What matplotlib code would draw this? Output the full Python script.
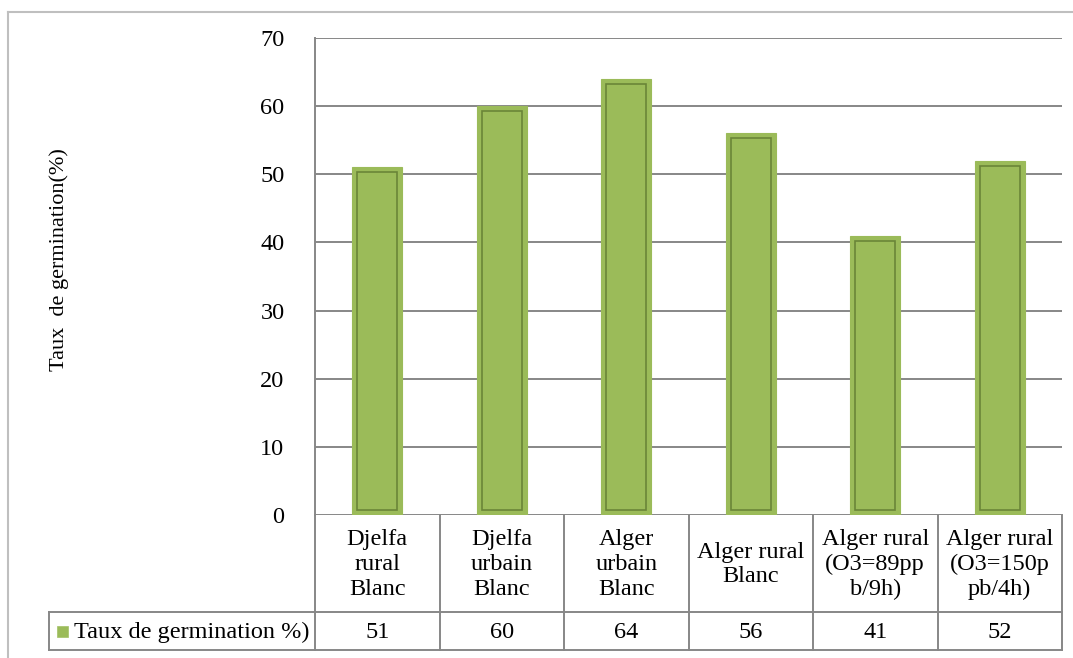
import matplotlib
matplotlib.use("Agg")
import matplotlib.pyplot as plt
from matplotlib.lines import Line2D
from matplotlib.patches import Rectangle

categories = ["Djelfa\nrural\nBlanc", "Djelfa\nurbain\nBlanc", "Alger\nurbain\nBlanc",
              "Alger rural\nBlanc", "Alger rural\n(O3=89pp\nb/9h)", "Alger rural\n(O3=150p\npb/4h)"]
values = [51, 60, 64, 56, 41, 52]
series_name = "Taux de germination %)"
y_label = "Taux  de germination(%)"
y_ticks = [0, 10, 20, 30, 40, 50, 60, 70]

W, H = 1073, 658
plt.rcParams['font.family'] = ['Liberation Serif', 'DejaVu Serif']
fig = plt.figure(figsize=(W / 100, H / 100), dpi=100)

def fx(px):
    return px / W

def fy(py):
    return 1 - py / H

ax_l, ax_r, ax_t, ax_b = 315, 1062, 38, 515
ax = fig.add_axes([fx(ax_l), fy(ax_b), (ax_r - ax_l) / W, (ax_b - ax_t) / H])

fill = '#9BBB59'
inner = '#6A8538'
grid_c = '#878787'
fs = 17.5

x = list(range(len(values)))
bw = 0.40
ax.set_xlim(-0.5, len(values) - 0.5)
ax.set_ylim(0, 70)

# gridlines
for t in y_ticks:
    ax.axhline(t, color=grid_c, lw=1.4, zorder=1)

# bars
ax.bar(x, values, width=bw, color=fill, edgecolor=fill, linewidth=0.8, zorder=3)
# inner outline (inset from each bar)
px_per_unit_x = (ax_r - ax_l) / len(values)
px_per_unit_y = (ax_b - ax_t) / 70
ix = 5 / px_per_unit_x
iy = 5 / px_per_unit_y
ax.bar(x, [v - 2 * iy for v in values], width=bw - 2 * ix, bottom=iy,
       facecolor='none', edgecolor=inner, linewidth=1.2, zorder=4)

for s in ['top', 'right', 'bottom']:
    ax.spines[s].set_visible(False)
ax.spines['left'].set_color(grid_c)
ax.spines['left'].set_linewidth(1.4)
ax.set_xticks([])
ax.set_yticks(y_ticks)
ax.tick_params(axis='y', length=0, pad=22, labelsize=fs)
ax.set_ylabel(y_label, fontsize=16)
ax.yaxis.set_label_coords((69 - ax_l) / (ax_r - ax_l), (ax_b - 260) / (ax_b - ax_t))

# table
hdr_bot, row_bot, leg_left = 612, 650, 49
tr = ax.get_xaxis_transform()
def ya(py):
    return (ax_b - py) / (ax_b - ax_t)

for b in [i - 0.5 for i in range(len(values) + 1)]:
    ax.add_line(Line2D([b, b], [0, ya(row_bot)], transform=tr, color=grid_c, lw=1.4, clip_on=False))
for py in [hdr_bot, row_bot]:
    fig.add_artist(Line2D([fx(leg_left), fx(ax_r)], [fy(py), fy(py)], color=grid_c, lw=1.4))
fig.add_artist(Line2D([fx(leg_left), fx(leg_left)], [fy(hdr_bot), fy(row_bot)], color=grid_c, lw=1.4))

for i, (c, v) in enumerate(zip(categories, values)):
    ax.text(i, ya((ax_b + hdr_bot) / 2 + 1), c, transform=tr, ha='center', va='center',
            fontsize=fs, linespacing=1.22, clip_on=False)
    ax.text(i, ya((hdr_bot + row_bot) / 2 + 1), str(v), transform=tr, ha='center', va='center',
            fontsize=fs, clip_on=False)

# legend key in table
fig.add_artist(Rectangle((fx(57), fy(637)), 11 / W, 11 / H, facecolor=fill,
                         edgecolor='#A3C166', lw=0.5))
fig.text(fx(74), fy((hdr_bot + row_bot) / 2 + 1), series_name, ha='left', va='center', fontsize=fs)

# outer frame
fig.add_artist(Line2D([fx(8), fx(8)], [fy(12), 0], color='#BFBFBF', lw=1.5))
fig.add_artist(Line2D([fx(8), 1], [fy(12), fy(12)], color='#BFBFBF', lw=1.5))

fig.savefig("out.png", dpi=100)
